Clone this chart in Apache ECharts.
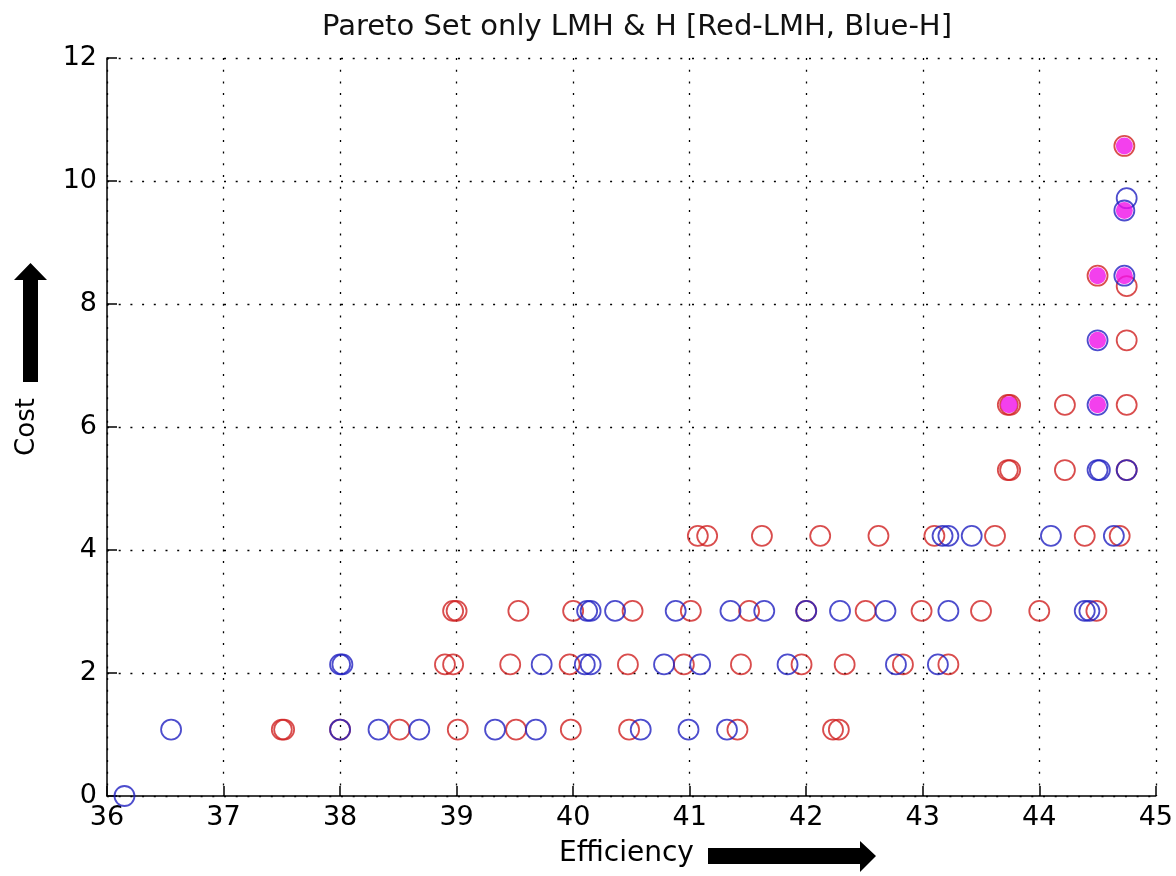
<!DOCTYPE html>
<html>
<head>
<meta charset="utf-8">
<script src="https://cdn.jsdelivr.net/npm/echarts@6/dist/echarts.min.js"></script>
<style>
  html, body { margin: 0; padding: 0; background: #fff; }
  #chart { width: 1176px; height: 876px; }
</style>
</head>
<body>
<div id="chart"></div>
<script>
// H points (blue rings), [efficiency, cost]
const bluePoints = [
  [36.15, 0],
  [36.55, 1.08], [38.0, 1.08], [38.33, 1.08], [38.68, 1.08], [39.33, 1.08], [39.68, 1.08],
  [40.58, 1.08], [40.99, 1.08], [41.32, 1.08],
  [38.0, 2.14], [38.02, 2.14], [39.73, 2.14], [40.1, 2.14], [40.15, 2.14], [40.78, 2.14],
  [41.09, 2.14], [41.84, 2.14], [42.77, 2.14], [43.13, 2.14],
  [40.12, 3.01], [40.15, 3.01], [40.36, 3.01], [40.88, 3.01], [41.35, 3.01], [41.64, 3.01],
  [42.0, 3.01], [42.29, 3.01], [42.68, 3.01], [43.22, 3.01], [44.39, 3.01], [44.43, 3.01],
  [43.17, 4.23], [43.22, 4.23], [43.42, 4.23], [44.1, 4.23], [44.64, 4.23],
  [44.5, 5.3], [44.52, 5.3], [44.75, 5.3],
  [44.5, 6.36], [44.5, 7.41], [44.73, 8.46], [44.73, 9.52], [44.75, 9.72]
]

// LMH points (red rings)
const redPoints = [
  [37.5, 1.08], [37.52, 1.08], [38.0, 1.08], [38.51, 1.08], [39.01, 1.08], [39.51, 1.08],
  [39.98, 1.08], [40.48, 1.08], [41.41, 1.08], [42.23, 1.08], [42.28, 1.08],
  [38.9, 2.14], [38.97, 2.14], [39.46, 2.14], [39.97, 2.14], [40.47, 2.14], [40.95, 2.14],
  [41.44, 2.14], [41.96, 2.14], [42.33, 2.14], [42.83, 2.14], [43.22, 2.14],
  [38.97, 3.01], [39.0, 3.01], [39.53, 3.01], [40.0, 3.01], [40.51, 3.01], [41.01, 3.01],
  [41.51, 3.01], [42.0, 3.01], [42.51, 3.01], [42.99, 3.01], [43.5, 3.01], [44.0, 3.01], [44.49, 3.01],
  [41.07, 4.23], [41.15, 4.23], [41.62, 4.23], [42.12, 4.23], [42.62, 4.23], [43.1, 4.23],
  [43.62, 4.23], [44.39, 4.23], [44.69, 4.23],
  [43.73, 5.3], [43.75, 5.3], [44.22, 5.3], [44.75, 5.3],
  [43.73, 6.36], [43.75, 6.36], [44.22, 6.36], [44.75, 6.36],
  [44.75, 7.41], [44.75, 8.29], [44.5, 8.46], [44.73, 10.57]
]

// points where both sets coincide (filled magenta)
const sharedPoints = [
  [43.74, 6.36], [44.5, 6.36], [44.5, 7.41], [44.5, 8.46],
  [44.73, 8.46], [44.73, 9.52], [44.73, 10.57]
]

const xTicks = { min: 36, max: 45, interval: 1 }
const yTicks = { min: 0, max: 12, interval: 2 }

const font = 'DejaVu Sans, Verdana, sans-serif'
const gridDots = { color: '#000', width: 1.3, type: [2, 9.7] }

function ring(name, data, color) {
  return {
    name,
    type: 'scatter',
    data,
    symbol: 'circle',
    symbolSize: 20,
    itemStyle: {
      color: 'rgba(0,0,0,0)',
      borderColor: color,
      borderWidth: 1.8
    },
    emphasis: { disabled: true }
  }
}

const myChart = echarts.init(document.getElementById('chart'))

const option = {
  animation: false,
  backgroundColor: '#fff',
  title: {
    text: 'Pareto Set only LMH & H [Red-LMH, Blue-H]',
    left: 632,
    textAlign: 'center',
    top: 8,
    textStyle: { fontFamily: font, fontSize: 29, fontWeight: 'normal', color: '#111' }
  },
  grid: { left: 107, right: 19, top: 58, bottom: 80 },
  xAxis: {
    type: 'value',
    min: xTicks.min,
    max: xTicks.max,
    interval: xTicks.interval,
    axisLine: { show: true, onZero: false, lineStyle: { color: '#000', width: 1.5 } },
    axisTick: { show: true, inside: true, length: 10, lineStyle: { color: '#000', width: 1.5 } },
    axisLabel: { color: '#000', fontSize: 27, fontFamily: font, margin: 8 },
    splitLine: { show: true, lineStyle: gridDots }
  },
  yAxis: {
    type: 'value',
    min: yTicks.min,
    max: yTicks.max,
    interval: yTicks.interval,
    name: 'Cost',
    nameLocation: 'middle',
    nameGap: 67,
    nameTextStyle: { color: '#000', fontSize: 26, fontFamily: font },
    axisLine: { show: true, onZero: false, lineStyle: { color: '#000', width: 1.5 } },
    axisTick: { show: true, inside: true, length: 10, lineStyle: { color: '#000', width: 1.5 } },
    axisLabel: { color: '#000', fontSize: 27, fontFamily: font, margin: 10 },
    splitLine: { show: true, lineStyle: gridDots }
  },
  graphic: [
    {
      type: 'text',
      left: 559,
      top: 840,
      style: { text: 'Efficiency', fontSize: 28, fontFamily: font, fill: '#000' }
    },
    {
      // up arrow beside the Cost label
      type: 'polygon',
      shape: { points: [[23, 382], [38, 382], [38, 280], [47, 280], [30.5, 263], [14, 280], [23, 280]] },
      style: { fill: '#000' }
    },
    {
      // right arrow beside the Efficiency label
      type: 'polygon',
      shape: { points: [[708, 848], [860, 848], [860, 841], [876, 856], [860, 872], [860, 864], [708, 864]] },
      style: { fill: '#000' }
    }
  ],
  series: [
    ring('LMH', redPoints, '#cf2020'),
    ring('H', bluePoints, '#2020c0'),
    {
      name: 'both',
      type: 'scatter',
      data: sharedPoints,
      symbol: 'circle',
      symbolSize: 17,
      itemStyle: { color: '#f010e8' },
      z: 3,
      emphasis: { disabled: true }
    }
  ]
}

myChart.setOption(option)
</script>
</body>
</html>
